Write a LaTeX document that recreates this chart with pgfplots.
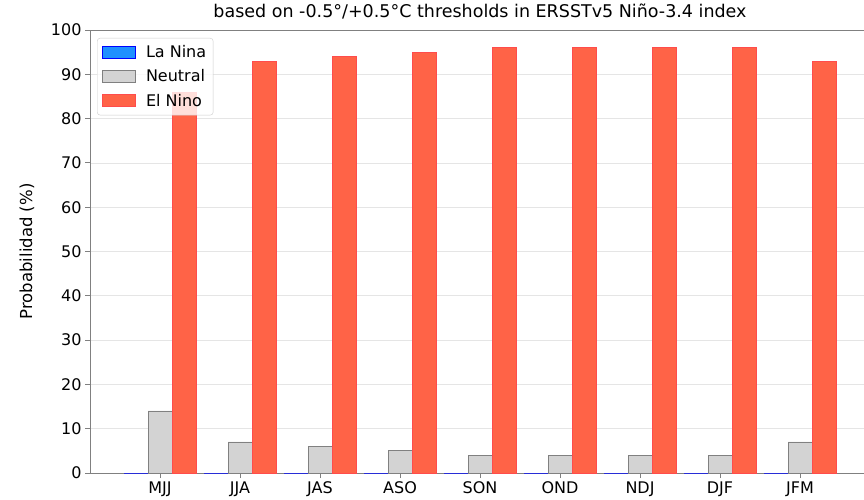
\documentclass[border=0pt]{standalone}
\usepackage{fontspec}
\setmainfont{DejaVu Sans}
\usepackage{pgfplots}
\pgfplotsset{compat=1.18}
\definecolor{lanina}{RGB}{30,144,255}
\definecolor{neutralc}{RGB}{211,211,211}
\definecolor{elnino}{RGB}{255,99,71}
\definecolor{spine}{RGB}{128,128,128}
\pgfplotsset{mylegend/.style={legend image code/.code={\draw[##1, sharp corners, fill opacity=1, draw opacity=1] (0pt,-6pt) rectangle (33pt,6pt); \path (41pt,0pt);}}}
\begin{document}
\begin{tikzpicture}[x=1pt,y=1pt]
\begin{axis}[
 at={(90pt,26pt)}, anchor=south west,
 scale only axis, width=780pt, height=443pt,
 xmin=-0.875, xmax=8.875, ymin=0, ymax=100,
 ytick={0,10,...,100},
 xtick={0,...,8},
 xticklabels={MJJ,JJA,JAS,ASO,SON,OND,NDJ,DJF,JFM},
 tick align=outside, tick pos=left,
 major tick length=5pt,
 axis line style={spine, line width=0.9pt},
 every tick/.style={spine, line width=0.9pt},
 ymajorgrids, grid style={black!10, line width=0.8pt},
 tick label style={font=\fontsize{16}{19}\selectfont},
 /pgf/number format/assume math mode=true,
 ylabel={Probabilidad (\%)},
 ylabel style={font=\fontsize{16.5}{19}\selectfont, at={(axis description cs:-0.081,0.5)}, anchor=center},
 title={based on -0.5°/+0.5°C thresholds in ERSSTv5 Niño-3.4 index},
 title style={font=\fontsize{17.5}{20}\selectfont, at={(axis description cs:0.5,1)}, anchor=base, yshift=6pt},
 ybar, bar width=0.3,
 legend style={at={(axis description cs:0.009,0.982)}, anchor=north west,
   draw=black!20, rounded corners=3pt, fill=white, fill opacity=0.8, text opacity=1,
   font=\fontsize{16}{19}\selectfont, row sep=6.5pt, inner xsep=5pt, inner ysep=5.5pt,
   nodes={inner xsep=2pt}},
 legend cell align=left,
]
\addplot[draw=blue, fill=lanina, bar shift=-0.3, line width=0.8pt, mylegend]
 coordinates {(0,0) (1,0) (2,0) (3,0) (4,0) (5,0) (6,0) (7,0) (8,0)};
\addlegendentry{La Nina}
\addplot[draw=spine, fill=neutralc, bar shift=0, line width=0.8pt, mylegend]
 coordinates {(0,14) (1,7) (2,6) (3,5) (4,4) (5,4) (6,4) (7,4) (8,7)};
\addlegendentry{Neutral}
\addplot[draw=red!70!white, fill=elnino, bar shift=0.3, line width=0.8pt, mylegend]
 coordinates {(0,86) (1,93) (2,94) (3,95) (4,96) (5,96) (6,96) (7,96) (8,93)};
\addlegendentry{El Nino}
\end{axis}
\pgfresetboundingbox
\path[use as bounding box] (0,0) rectangle (864pt,499pt);
\end{tikzpicture}
\end{document}
